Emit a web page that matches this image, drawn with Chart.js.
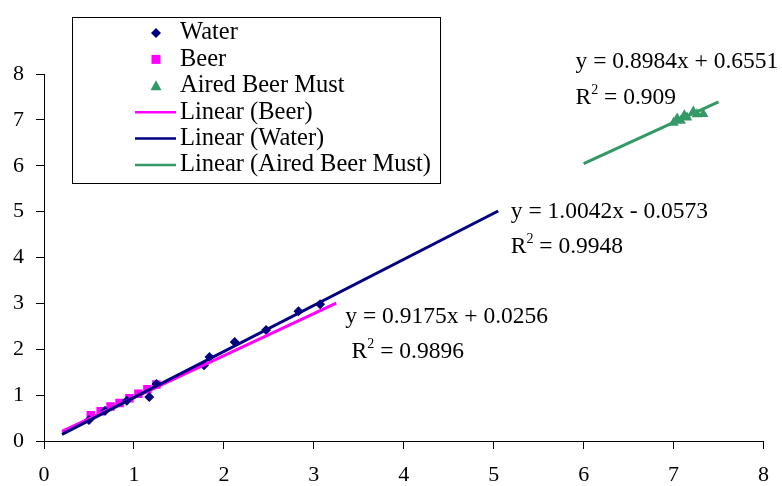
<!DOCTYPE html>
<html>
<head>
<meta charset="utf-8">
<title>Linear fits - Water, Beer, Aired Beer Must</title>
<script src="https://cdn.jsdelivr.net/npm/chart.js@4.4.1/dist/chart.umd.min.js"></script>
<style>
  html, body { margin: 0; padding: 0; background: #fff; }
  #wrap { width: 782px; height: 486px; }
</style>
</head>
<body>
<div id="wrap"><canvas id="fitChart" width="782" height="486"></canvas></div>
<script>
const waterX = [0.50, 0.68, 0.92, 1.17, 1.25, 1.78, 1.84, 2.12, 2.47, 2.83, 3.07];
const waterY = [0.46, 0.66, 0.88, 0.96, 1.24, 1.65, 1.83, 2.16, 2.42, 2.83, 2.98];
const beerX = [0.52, 0.63, 0.74, 0.84, 0.95, 1.05, 1.15, 1.25];
const beerY = [0.56, 0.65, 0.75, 0.83, 0.93, 1.03, 1.13, 1.23];
const mustX = [7.00, 7.04, 7.08, 7.12, 7.15, 7.22, 7.26, 7.33];
const mustY = [6.94, 7.03, 6.98, 7.10, 7.05, 7.18, 7.12, 7.13];

// Trendlines as printed on the chart: [slope, intercept]
const waterFit = [1.0042, -0.0573];
const beerFit = [0.9175, 0.0256];
const mustFit = [0.8984, 0.6551];
// x span drawn for each trendline
const waterSpan = [0.2, 5.05];
const beerSpan = [0.2, 3.25];
const mustSpan = [6.0, 7.5];

const waterEq = ["y = 1.0042x - 0.0573", "0.9948"];
const beerEq = ["y = 0.9175x + 0.0256", "0.9896"];
const mustEq = ["y = 0.8984x + 0.6551", "0.909"];

const axisTicks = [0, 1, 2, 3, 4, 5, 6, 7, 8];

const NAVY = "#000080";
const PINK = "#ff00ff";
const GREEN = "#339966";
const SERIF = "'Liberation Serif', 'Times New Roman', serif";

function toPoints(xs, ys) {
  return xs.map((x, i) => ({ x: x, y: ys[i] }));
}

function fitLine(fit, span) {
  return span.map((x) => ({ x: x, y: fit[0] * x + fit[1] }));
}

// where each equation block starts (left edge, middle of line), in axis units
const eqSpots = [
  { text: waterEq, eq: [5.19, 4.99], r2: [5.19, 4.23] },
  { text: beerEq, eq: [3.35, 2.70], r2: [3.42, 1.94] },
  { text: mustEq, eq: [5.91, 8.26], r2: [5.91, 7.47] },
];

function drawMarker(ctx, style, x, y, color) {
  ctx.fillStyle = color;
  ctx.beginPath();
  if (style === "rectRot") {
    ctx.moveTo(x, y - 5);
    ctx.lineTo(x + 5, y);
    ctx.lineTo(x, y + 5);
    ctx.lineTo(x - 5, y);
  } else if (style === "rect") {
    ctx.rect(x - 4.5, y - 4.5, 9, 9);
  } else {
    ctx.moveTo(x, y - 5.5);
    ctx.lineTo(x + 5.5, y + 4.5);
    ctx.lineTo(x - 5.5, y + 4.5);
  }
  ctx.closePath();
  ctx.fill();
}

// boxed legend sitting over the upper left of the plot
const boxLegend = {
  id: "boxLegend",
  afterDraw(chart) {
    const ctx = chart.ctx;
    ctx.save();
    ctx.fillStyle = "#fff";
    ctx.fillRect(72, 17, 368, 166);
    ctx.strokeStyle = "#000";
    ctx.lineWidth = 1;
    ctx.strokeRect(72.5, 17.5, 368, 166);
    ctx.font = "24.5px " + SERIF;
    ctx.textBaseline = "middle";
    chart.data.datasets.forEach((ds, i) => {
      const y = 33 + i * 26.4;
      if (ds.showLine) {
        ctx.strokeStyle = ds.borderColor;
        ctx.lineWidth = 2.5;
        ctx.beginPath();
        ctx.moveTo(135, y);
        ctx.lineTo(176, y);
        ctx.stroke();
      } else {
        drawMarker(ctx, ds.pointStyle, 156, y, ds.backgroundColor);
      }
      ctx.fillStyle = "#000";
      ctx.fillText(ds.label, 180, y);
    });
    ctx.restore();
  },
};

// trendline equations and R squared
const equations = {
  id: "equations",
  afterDatasetsDraw(chart) {
    const ctx = chart.ctx;
    const sx = chart.scales.x;
    const sy = chart.scales.y;
    ctx.save();
    ctx.fillStyle = "#000";
    ctx.textBaseline = "middle";
    eqSpots.forEach((spot) => {
      ctx.font = "23.5px " + SERIF;
      ctx.fillText(spot.text[0], sx.getPixelForValue(spot.eq[0]), sy.getPixelForValue(spot.eq[1]));
      let x = sx.getPixelForValue(spot.r2[0]);
      const y = sy.getPixelForValue(spot.r2[1]);
      ctx.fillText("R", x, y);
      x += ctx.measureText("R").width;
      ctx.font = "14px " + SERIF;
      ctx.fillText("2", x, y - 8);
      x += ctx.measureText("2").width;
      ctx.font = "23.5px " + SERIF;
      ctx.fillText(" = " + spot.text[1], x, y);
    });
    ctx.restore();
  },
};

function axis(pos) {
  const ax = {
    type: "linear",
    position: pos,
    min: 0,
    max: 8,
    afterBuildTicks: (scale) => {
      scale.ticks = axisTicks.map((v) => ({ value: v }));
    },
    grid: { drawOnChartArea: false, tickLength: 8, color: "#000", lineWidth: 1 },
    border: { color: "#000", width: 1 },
    ticks: {
      color: "#000",
      font: { family: SERIF, size: 22 },
      padding: pos === "left" ? 12 : 13,
    },
  };
  ax.afterFit = (scale) => {
    if (pos === "left") scale.width = 44;
    else scale.height = 45;
  };
  return ax;
}

const ctx = document.getElementById("fitChart").getContext("2d");
const fitChart = new Chart(ctx, {
  type: "scatter",
  data: {
    datasets: [
      {
        label: "Water",
        data: toPoints(waterX, waterY),
        pointStyle: "rectRot",
        pointRadius: 5,
        backgroundColor: NAVY,
        borderColor: NAVY,
        borderWidth: 0,
        order: 3,
      },
      {
        label: "Beer",
        data: toPoints(beerX, beerY),
        pointStyle: "rect",
        pointRadius: 6,
        backgroundColor: PINK,
        borderColor: PINK,
        borderWidth: 0,
        order: 4,
      },
      {
        label: "Aired Beer Must",
        data: toPoints(mustX, mustY),
        pointStyle: "triangle",
        pointRadius: 6,
        backgroundColor: GREEN,
        borderColor: GREEN,
        borderWidth: 0,
        order: 5,
      },
      {
        label: "Linear (Beer)",
        data: fitLine(beerFit, beerSpan),
        showLine: true,
        pointRadius: 0,
        borderColor: PINK,
        borderWidth: 3,
        order: 1,
      },
      {
        label: "Linear (Water)",
        data: fitLine(waterFit, waterSpan),
        showLine: true,
        pointRadius: 0,
        borderColor: NAVY,
        borderWidth: 3,
        order: 0,
      },
      {
        label: "Linear (Aired Beer Must)",
        data: fitLine(mustFit, mustSpan),
        showLine: true,
        pointRadius: 0,
        borderColor: GREEN,
        borderWidth: 3,
        order: 2,
      },
    ],
  },
  options: {
    responsive: false,
    animation: false,
    layout: { padding: { top: 74, right: 15, left: 0, bottom: 0 } },
    plugins: {
      legend: { display: false },
      tooltip: { enabled: false },
    },
    scales: {
      x: axis("bottom"),
      y: axis("left"),
    },
  },
  plugins: [equations, boxLegend],
});
</script>
</body>
</html>
